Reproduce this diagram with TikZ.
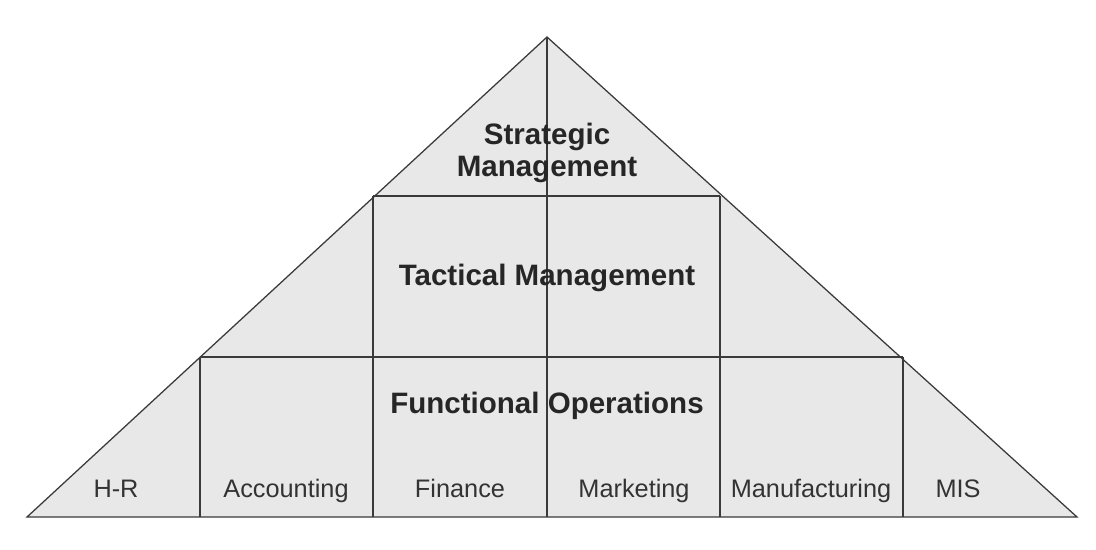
\documentclass[tikz,border=0pt]{standalone}
\usepackage{fontspec}
\setmainfont{Liberation Sans}
\usetikzlibrary{positioning}
\definecolor{pyramid-fill}{HTML}{E8E8E8}
\definecolor{pyramid-line}{HTML}{3A3A3A}
\tikzset{
  level label/.style={font=\fontsize{21}{22.8}\selectfont\bfseries, text=black!85, align=center, anchor=base},
  unit label/.style={font=\fontsize{18}{20}\selectfont, text=black!80, anchor=base},
}

\begin{document}
\begin{tikzpicture}[x=0.025cm, y=-0.025cm, line width=0.9pt]
\useasboundingbox (0,0) rectangle (1096,550);
% corners of the pyramid
\coordinate (apex) at (547,37);
\coordinate (base left) at (27,517);
\coordinate (base right) at (1077,517);
\draw [pyramid-line, fill=pyramid-fill, line join=miter] (base left) -- (apex) -- (base right) -- cycle;
% level dividers
\coordinate (tac left) at (373,196);
\coordinate (tac right) at (720,196);
\coordinate (fun left) at (200,357);
\coordinate (fun right) at (903,357);
\draw [pyramid-line] (tac left) -- (tac right);
\draw [pyramid-line] (fun left) -- (fun right);
% columns
\draw [pyramid-line] (apex) -- (547,517);
\draw [pyramid-line] (tac left) -- (373,517);
\draw [pyramid-line] (tac right) -- (720,517);
\draw [pyramid-line] (fun left) -- (200,517);
\draw [pyramid-line] (fun right) -- (903,517);
% labels (base of a two-line node is its last line)
\node [level label] (strategic) at (547,177) {Strategic\\Management};
\node [level label] (tactical) at (547,285) {Tactical Management};
\node [level label] (functional) at (547,413) {Functional Operations};
\foreach \name/\x/\txt in {hr/116/H-R, acc/286/Accounting, fin/460/Finance, mkt/634/Marketing, man/811/Manufacturing, mis/958/MIS}
  \node [unit label] (\name) at (\x,497) {\txt};
\end{tikzpicture}
\end{document}
